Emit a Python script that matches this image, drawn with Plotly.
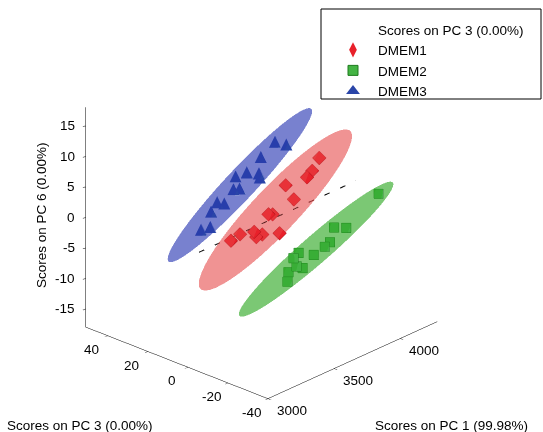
import numpy as np
import plotly.graph_objects as go

# ---------------- data ----------------
dmem1_pc1 = [3294, 3379, 3455, 3486, 3547, 3662, 3563, 3609, 3785, 3708, 3854, 3908, 3977]
dmem1_pc3 = [-2, -1, -3, -2, -1, -2, -3, -2, -1, -2, -3, -2, -1]
dmem1_pc6 = [0.1, 0.2, 0.1, -1.2, -1.5, -2.3, 1.9, 1.3, 1.9, 5.1, 5.1, 5.5, 6.8]

dmem2_pc1 = [4139, 3878, 3817, 3771, 3717, 3649, 3549, 3495, 3503, 3564, 3472, 3449]
dmem2_pc3 = [-20, -21, -19, -20, -21, -20, -19, -20, -21, -20, -19, -20]
dmem2_pc6 = [1.8, -1.1, -0.7, -2.5, -2.6, -3.4, -2.2, -2.4, -3.7, -4.7, -4.6, -5.8]

dmem3_pc1 = [3326, 3410, 3387, 3448, 3517, 3556, 3617, 3602, 3671, 3748, 3770, 3793, 3885, 3955]
dmem3_pc3 = [15, 16, 14, 15, 16, 14, 15, 16, 15, 14, 15, 16, 15, 14]
dmem3_pc6 = [-0.6, -1.1, 1.9, 2.7, 1.7, 3.9, 3.3, 5.3, 5.4, 4.6, 3.6, 6.6, 8.3, 7.3]

ref_line_pc1 = [3085, 4270]
ref_line_pc3 = [0, 0]
ref_line_pc6 = [0, 0]

pc1_range = [3000, 4280]
pc3_range = [-40, 51]
pc6_range = [-18, 18]

pc1_ticks = [3000, 3500, 4000]
pc1_ticklabels = ["3000", "3500", "4000"]
pc3_ticks = [-40, -20, 0, 20, 40]
pc3_ticklabels = ["-40", "-20", "0", "20", "40"]
pc6_ticks = [-15, -10, -5, 0, 5, 10, 15]
pc6_ticklabels = ["-15", "-10", "-5", "0", "5", "10", "15"]

group_names = ["DMEM1", "DMEM2", "DMEM3"]
legend_header = "Scores on PC 3 (0.00%)"

FONT = "Liberation Sans, Arial, sans-serif"
FS = 13.5
W, H = 543, 432


def ellipsoid(xs, ys, zs, k=2.8, n1=24, n2=40):
    pts = np.column_stack([xs, ys, zs]).astype(float)
    mu = pts.mean(axis=0)
    cov = np.cov(pts.T)
    w, v = np.linalg.eigh(cov)
    w = np.clip(w, 1e-6, None)
    A = v @ np.diag(np.sqrt(w)) * k
    th = np.linspace(0, np.pi, n1)
    ph = np.linspace(0, 2 * np.pi, n2, endpoint=False)
    T, P = np.meshgrid(th, ph, indexing="ij")
    s = np.stack([np.sin(T) * np.cos(P), np.sin(T) * np.sin(P), np.cos(T)], axis=-1).reshape(-1, 3)
    e = s @ A.T + mu
    I, J, K = [], [], []
    for a in range(n1 - 1):
        for b in range(n2):
            p0 = a * n2 + b
            p1 = a * n2 + (b + 1) % n2
            p2 = (a + 1) * n2 + b
            p3 = (a + 1) * n2 + (b + 1) % n2
            I += [p0, p1]
            J += [p2, p2]
            K += [p1, p3]
    return e[:, 0], e[:, 1], e[:, 2], I, J, K


fig = go.Figure()

fills = ["rgb(231,80,80)", "rgb(40,165,30)", "rgb(36,50,177)"]
groups = [
    (dmem1_pc1, dmem1_pc3, dmem1_pc6),
    (dmem2_pc1, dmem2_pc3, dmem2_pc6),
    (dmem3_pc1, dmem3_pc3, dmem3_pc6),
]
for (gx, gy, gz), col in zip(groups, fills):
    ex, ey, ez, I, J, K = ellipsoid(gx, gy, gz)
    fig.add_trace(go.Mesh3d(x=ex, y=ey, z=ez, i=I, j=J, k=K, color=col, opacity=0.38,
                            flatshading=True,
                            lighting=dict(ambient=1, diffuse=0, specular=0, roughness=1, fresnel=0),
                            hoverinfo="skip", showlegend=False, showscale=False))

fig.add_trace(go.Scatter3d(x=ref_line_pc1, y=ref_line_pc3, z=ref_line_pc6, mode="lines",
                           line=dict(color="black", width=2, dash="longdash"),
                           showlegend=False, hoverinfo="skip"))

fig.add_trace(go.Scatter3d(x=dmem1_pc1, y=dmem1_pc3, z=dmem1_pc6, mode="markers",
                           marker=dict(symbol="diamond", size=4.5, color="#e8202a",
                                       line=dict(color="#b01018", width=1)),
                           showlegend=False, name=group_names[0]))
fig.add_trace(go.Scatter3d(x=dmem2_pc1, y=dmem2_pc3, z=dmem2_pc6, mode="markers",
                           marker=dict(symbol="square", size=5, color="#44b444",
                                       line=dict(color="#1e7a1e", width=1)),
                           showlegend=False, name=group_names[1]))
fig.add_trace(go.Scatter3d(x=dmem3_pc1, y=dmem3_pc3, z=dmem3_pc6, mode="text",
                           text=["\u25B2"] * len(dmem3_pc1), textposition="middle center",
                           textfont=dict(color="#2a45a8", size=16, family="DejaVu Sans"),
                           showlegend=False, name=group_names[2]))

# legend entries (2D, legend only)
fig.add_trace(go.Scatter(x=[None], y=[None], mode="markers", name=legend_header,
                         marker=dict(color="rgba(0,0,0,0)", size=1)))
fig.add_trace(go.Scatter(x=[None], y=[None], mode="markers", name=group_names[0],
                         marker=dict(symbol="diamond-tall", size=11, color="#e8202a")))
fig.add_trace(go.Scatter(x=[None], y=[None], mode="markers", name=group_names[1],
                         marker=dict(symbol="square", size=10, color="#44b444",
                                     line=dict(color="#1e7a1e", width=1))))
fig.add_trace(go.Scatter(x=[None], y=[None], mode="markers", name=group_names[2],
                         marker=dict(symbol="triangle-up", size=12, color="#2a45a8")))

ax_common = dict(showgrid=False, showbackground=False, zeroline=False, showline=True,
                 linecolor="black", linewidth=1, ticks="outside", ticklen=4, tickcolor="black",
                 showspikes=False, title=dict(text=""), showticklabels=False)

# tick labels placed as scene annotations at the tick values
# (anchored a hair inside the box so they are not culled at the range edge)
eps_x = 1e-3 * (pc1_range[1] - pc1_range[0])
eps_y = 1e-3 * (pc3_range[1] - pc3_range[0])
eps_z = 1e-3 * (pc6_range[1] - pc6_range[0])
x_edge = pc1_range[0] + eps_x
y_lo = pc3_range[0] + eps_y
y_hi = pc3_range[1] - eps_y
z_lo = pc6_range[0] + eps_z

tick_font = dict(family=FONT, size=FS, color="black")
scene_ann = []
for v, t in zip(pc6_ticks, pc6_ticklabels):
    scene_ann.append(dict(x=x_edge, y=y_hi, z=v, text=t, showarrow=False,
                          xanchor="right", yanchor="middle", xshift=-9, yshift=0, font=tick_font))
for v, t in zip(pc3_ticks, pc3_ticklabels):
    scene_ann.append(dict(x=x_edge, y=min(max(v, y_lo), y_hi), z=z_lo, text=t, showarrow=False,
                          xanchor="center", yanchor="middle", xshift=-16, yshift=-14, font=tick_font))
for v, t in zip(pc1_ticks, pc1_ticklabels):
    scene_ann.append(dict(x=max(v, x_edge), y=y_lo, z=z_lo, text=t, showarrow=False,
                          xanchor="center", yanchor="middle", xshift=24, yshift=-12, font=tick_font))

el = np.deg2rad(25.0)
al = np.deg2rad(42.9)
r = 1.9
eye = dict(x=-r * np.cos(al) * np.cos(el), y=-r * np.sin(al) * np.cos(el), z=r * np.sin(el))
box = 1.16

fig.update_layout(
    width=W, height=H,
    margin=dict(l=0, r=0, t=0, b=0),
    paper_bgcolor="white", plot_bgcolor="white",
    font=dict(family=FONT, size=FS, color="black"),
    xaxis=dict(visible=False), yaxis=dict(visible=False),
    scene=dict(
        domain=dict(x=[0.0, 0.963], y=[0.007, 1.0]),
        xaxis=dict(range=pc1_range, tickvals=pc1_ticks, **ax_common),
        yaxis=dict(range=pc3_range, tickvals=pc3_ticks, **ax_common),
        zaxis=dict(range=pc6_range, tickvals=pc6_ticks, **ax_common),
        aspectmode="manual", aspectratio=dict(x=box, y=box, z=1.13),
        camera=dict(eye=eye, up=dict(x=0, y=0, z=1), center=dict(x=0, y=0, z=0),
                    projection=dict(type="orthographic")),
        bgcolor="white",
        annotations=scene_ann,
    ),
    legend=dict(x=328 / W, y=1 - 14 / H, xanchor="left", yanchor="top",
                borderwidth=0, bgcolor="rgba(0,0,0,0)", itemwidth=40,
                font=dict(family=FONT, size=FS, color="black")),
    shapes=[dict(type="rect", xref="paper", yref="paper",
                 x0=321 / W, x1=541 / W, y0=1 - 99 / H, y1=1 - 9 / H,
                 line=dict(color="black", width=1), fillcolor="rgba(0,0,0,0)", layer="above")],
    showlegend=True,
    annotations=[
        dict(text="Scores on PC 3 (0.00%)", x=5 / W, y=1 - 425 / H, xref="paper", yref="paper",
             xanchor="left", yanchor="middle", showarrow=False, font=dict(size=FS)),
        dict(text="Scores on PC 1 (99.98%)", x=530 / W, y=1 - 425 / H, xref="paper", yref="paper",
             xanchor="right", yanchor="middle", showarrow=False, font=dict(size=FS)),
        dict(text="Scores on PC 6 (0.00%)", x=42 / W, y=1 - 215 / H, xref="paper", yref="paper",
             xanchor="center", yanchor="middle", textangle=-90, showarrow=False, font=dict(size=FS)),
    ],
)

fig.write_html("out.html", config={"displayModeBar": False},
               post_script="document.body.style.margin='0';document.body.style.padding='0';")
